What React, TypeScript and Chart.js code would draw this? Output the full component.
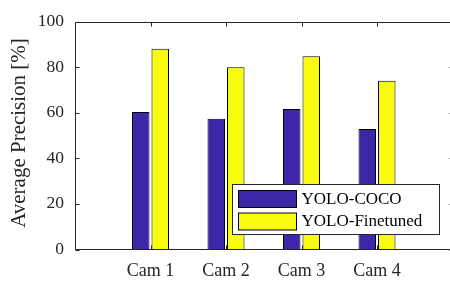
import React, { useEffect, useRef } from 'react';
import { Chart, registerables } from 'chart.js';

Chart.register(...registerables);

const categories = ['Cam 1', 'Cam 2', 'Cam 3', 'Cam 4'];
const seriesNames = ['YOLO-COCO', 'YOLO-Finetuned'];
const cocoValues = [60.3, 57.3, 61.6, 52.8];
const finetunedValues = [88.1, 79.9, 84.8, 74.0];
const seriesColors = ['#3D26A8', '#F9FB0E'];
const yTicks = [0, 20, 40, 60, 80, 100];
const yTitle = 'Average Precision [%]';

const FONT = "'Liberation Serif', 'Times New Roman', serif";
const AXIS = '#262626';

const framePlugin = {
  id: 'frame',
  afterDatasetsDraw(chart: any) {
    const { ctx, chartArea: a, scales } = chart;
    const xs = scales.x;
    const ys = scales.y;
    const L = Math.round(a.left) + 0.5;
    const R = Math.round(xs.getPixelForValue(5)) + 0.5;
    const T = Math.round(a.top) + 0.5;
    const B = Math.round(a.bottom) - 0.5;
    const tl = 4;
    ctx.save();
    ctx.strokeStyle = AXIS;
    ctx.lineWidth = 1;
    ctx.beginPath();
    ctx.moveTo(L, T); ctx.lineTo(R, T); ctx.lineTo(R, B); ctx.lineTo(L, B); ctx.closePath();
    yTicks.forEach((v) => {
      const p = Math.round(ys.getPixelForValue(v)) + 0.5;
      ctx.moveTo(L, p); ctx.lineTo(L + tl, p);
      ctx.moveTo(R, p); ctx.lineTo(R - tl, p);
    });
    categories.forEach((_, i) => {
      const p = Math.round(xs.getPixelForValue(i + 1)) + 0.5;
      ctx.moveTo(p, B); ctx.lineTo(p, B - tl);
      ctx.moveTo(p, T); ctx.lineTo(p, T + tl);
    });
    ctx.stroke();
    ctx.restore();
  },
  afterDraw(chart: any) {
    const { ctx } = chart;
    ctx.save();
    ctx.fillStyle = AXIS;
    ctx.font = `21px ${FONT}`;
    ctx.textAlign = 'center';
    ctx.textBaseline = 'middle';
    ctx.translate(19, 133);
    ctx.rotate(-Math.PI / 2);
    ctx.fillText(yTitle, 0, 0);
    ctx.restore();

    ctx.save();
    const bx = 232.5, by = 184.5, bw = 207, bh = 50;
    ctx.fillStyle = '#ffffff';
    ctx.fillRect(bx, by, bw, bh);
    ctx.strokeStyle = AXIS;
    ctx.lineWidth = 1;
    ctx.strokeRect(bx, by, bw, bh);
    ctx.font = `17px ${FONT}`;
    ctx.textAlign = 'left';
    ctx.textBaseline = 'middle';
    chart.data.datasets.forEach((ds: any, i: number) => {
      const sy = 190.5 + i * 22.5;
      ctx.fillStyle = ds.backgroundColor;
      ctx.fillRect(238.5, sy, 58, 17);
      ctx.strokeStyle = '#000000';
      ctx.strokeRect(238.5, sy, 58, 17);
      ctx.fillStyle = '#000000';
      ctx.fillText(ds.label, 301.5, sy + 9);
    });
    ctx.restore();
  },
};

export default function App() {
  const ref = useRef<HTMLCanvasElement | null>(null);

  useEffect(() => {
    document.body.style.margin = '0';
    const canvas = ref.current;
    if (!canvas) return;
    const values = [cocoValues, finetunedValues];
    const chart = new Chart(canvas, {
      type: 'bar',
      data: {
        datasets: seriesNames.map((name, s) => ({
          label: name,
          data: categories.map((_, i) => ({ x: i + 1, y: values[s][i] })),
          backgroundColor: seriesColors[s],
          borderColor: '#000000',
          borderWidth: 1,
          categoryPercentage: 0.517,
          barPercentage: 0.897,
        })),
      },
      options: {
        animation: false,
        responsive: false,
        devicePixelRatio: 1,
        layout: { padding: { top: 7, left: 0, right: 0, bottom: 0 } },
        plugins: { legend: { display: false }, tooltip: { enabled: false }, title: { display: false } },
        scales: {
          x: {
            type: 'linear',
            offset: false,
            min: 0,
            max: 375 / 75.5,
            grid: { display: false, drawTicks: false, offset: false },
            border: { display: false },
            afterBuildTicks: (scale: any) => {
              scale.ticks = categories.map((_, i) => ({ value: i + 1 }));
            },
            afterFit: (scale: any) => { scale.height = 33.5; },
            ticks: {
              autoSkip: false,
              maxRotation: 0,
              padding: 11,
              color: AXIS,
              font: { family: FONT, size: 18 },
              callback: (v: any) => categories[Number(v) - 1] ?? '',
            },
          },
          y: {
            min: 0,
            max: 100,
            grid: { display: false, drawTicks: false },
            border: { display: false },
            afterBuildTicks: (scale: any) => {
              scale.ticks = yTicks.map((v) => ({ value: v }));
            },
            afterFit: (scale: any) => { scale.width = 75; },
            ticks: {
              padding: 11,
              color: AXIS,
              font: { family: FONT, size: 17.5 },
            },
          },
        },
      },
      plugins: [framePlugin],
    } as any);
    return () => chart.destroy();
  }, []);

  return <canvas ref={ref} width={450} height={283} style={{ display: 'block', width: 450, height: 283 }} />;
}
